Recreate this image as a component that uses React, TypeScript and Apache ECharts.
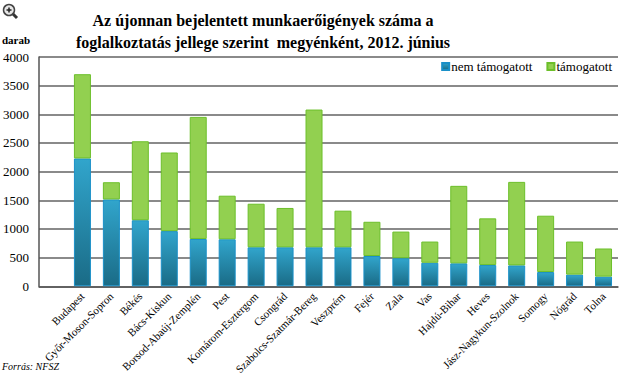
import React, { useEffect, useRef } from "react";
import * as echarts from "echarts";

const categories = [
  "",
  "Budapest",
  "Győr-Moson-Sopron",
  "Békés",
  "Bács-Kiskun",
  "Borsod-Abaúj-Zemplén",
  "Pest",
  "Komárom-Esztergom",
  "Csongrád",
  "Szabolcs-Szatmár-Bereg",
  "Veszprém",
  "Fejér",
  "Zala",
  "Vas",
  "Hajdú-Bihar",
  "Heves",
  "Jász-Nagykun-Szolnok",
  "Somogy",
  "Nógrád",
  "Tolna",
];

const nemTamogatott = [null, 2230, 1515, 1152, 962, 825, 820, 680, 680, 680, 680, 528, 490, 410, 400, 370, 364, 248, 203, 168];
const tamogatott = [null, 1470, 300, 1378, 1372, 2130, 760, 760, 686, 2403, 639, 597, 464, 370, 1352, 815, 1457, 983, 577, 491];

const yTicks = { min: 0, max: 4000, interval: 500 };

const titleLines = [
  "Az újonnan bejelentett munkaerőigények száma a",
  "foglalkoztatás jellege szerint  megyénként, 2012. június",
];

const SERIF = "'Liberation Serif', 'DejaVu Serif', serif";

export default function App() {
  const ref = useRef<HTMLDivElement>(null);
  useEffect(() => {
    if (!ref.current) return;
    const chart = echarts.init(ref.current, undefined, { renderer: "svg" });
    const blueGrad = new echarts.graphic.LinearGradient(0, 0, 0, 1, [
      { offset: 0, color: "#31a5cc" },
      { offset: 1, color: "#1a6b86" },
    ]);
    chart.setOption({
      animation: false,
      backgroundColor: "#ffffff",
      grid: { left: 39, right: 2, top: 57, bottom: 90 },
      legend: {
        top: 58,
        right: 6,
        itemWidth: 7,
        itemHeight: 7,
        itemGap: 14,
        icon: "rect",
        backgroundColor: "#ffffff",
        padding: [2, 2, 2, 2],
        textStyle: { fontFamily: SERIF, fontSize: 13, color: "#000", padding: [0, 0, 0, -3] },
        data: ["nem támogatott", "támogatott"],
      },
      xAxis: {
        type: "category",
        data: categories,
        axisLine: { lineStyle: { color: "#555", width: 1.5 } },
        axisTick: { show: false },
        axisLabel: {
          rotate: 45,
          interval: 0,
          margin: 8,
          fontFamily: SERIF,
          fontSize: 11,
          color: "#000",
        },
      },
      yAxis: {
        type: "value",
        ...yTicks,
        axisLine: { show: true, lineStyle: { color: "#555", width: 1.5 } },
        axisTick: { show: false },
        axisLabel: {
          fontFamily: SERIF,
          fontSize: 13,
          color: "#000",
          margin: 10,
          formatter: (v: number) => String(v),
        },
        splitLine: { lineStyle: { color: "#8a8a8a", width: 2 } },
      },
      series: [
        {
          name: "nem támogatott",
          type: "bar",
          stack: "total",
          barWidth: 17,
          data: nemTamogatott,
          itemStyle: { color: blueGrad, borderColor: "#1a90c8", borderWidth: 1 },
        },
        {
          name: "támogatott",
          type: "bar",
          stack: "total",
          barWidth: 17,
          data: tamogatott,
          itemStyle: { color: "#92d050", borderColor: "#6cbf2a", borderWidth: 1 },
        },
      ],
      graphic: [
        {
          type: "text",
          x: 263,
          y: 12,
          style: {
            text: titleLines[0],
            fontFamily: SERIF,
            fontWeight: "bold",
            fontSize: 16,
            fill: "#000",
            align: "center",
          },
        },
        {
          type: "text",
          x: 263,
          y: 34,
          style: {
            text: titleLines[1],
            fontFamily: SERIF,
            fontWeight: "bold",
            fontSize: 16,
            fill: "#000",
            align: "center",
          },
        },
        {
          type: "text",
          x: 2,
          y: 34,
          style: { text: "darab", fontFamily: SERIF, fontWeight: "bold", fontSize: 11, fill: "#000" },
        },
        {
          type: "text",
          x: 2,
          y: 361,
          style: { text: "Forrás: NFSZ", fontFamily: SERIF, fontStyle: "italic", fontSize: 10, fill: "#000" },
        },
        {
          type: "group",
          children: [
            { type: "line", shape: { x1: 13, y1: 14, x2: 17, y2: 18 }, style: { stroke: "#333", lineWidth: 3 } },
            { type: "circle", shape: { cx: 9, cy: 10, r: 5.5 }, style: { fill: "#e8e8e8", stroke: "#444", lineWidth: 1.5 } },
            { type: "line", shape: { x1: 6.5, y1: 10, x2: 11.5, y2: 10 }, style: { stroke: "#222", lineWidth: 1.5 } },
            { type: "line", shape: { x1: 9, y1: 7.5, x2: 9, y2: 12.5 }, style: { stroke: "#222", lineWidth: 1.5 } },
          ],
        },
      ],
    });
    return () => chart.dispose();
  }, []);
  return (
    <div
      ref={ref}
      style={{ position: "absolute", left: 0, top: 0, width: 620, height: 377 }}
    />
  );
}
